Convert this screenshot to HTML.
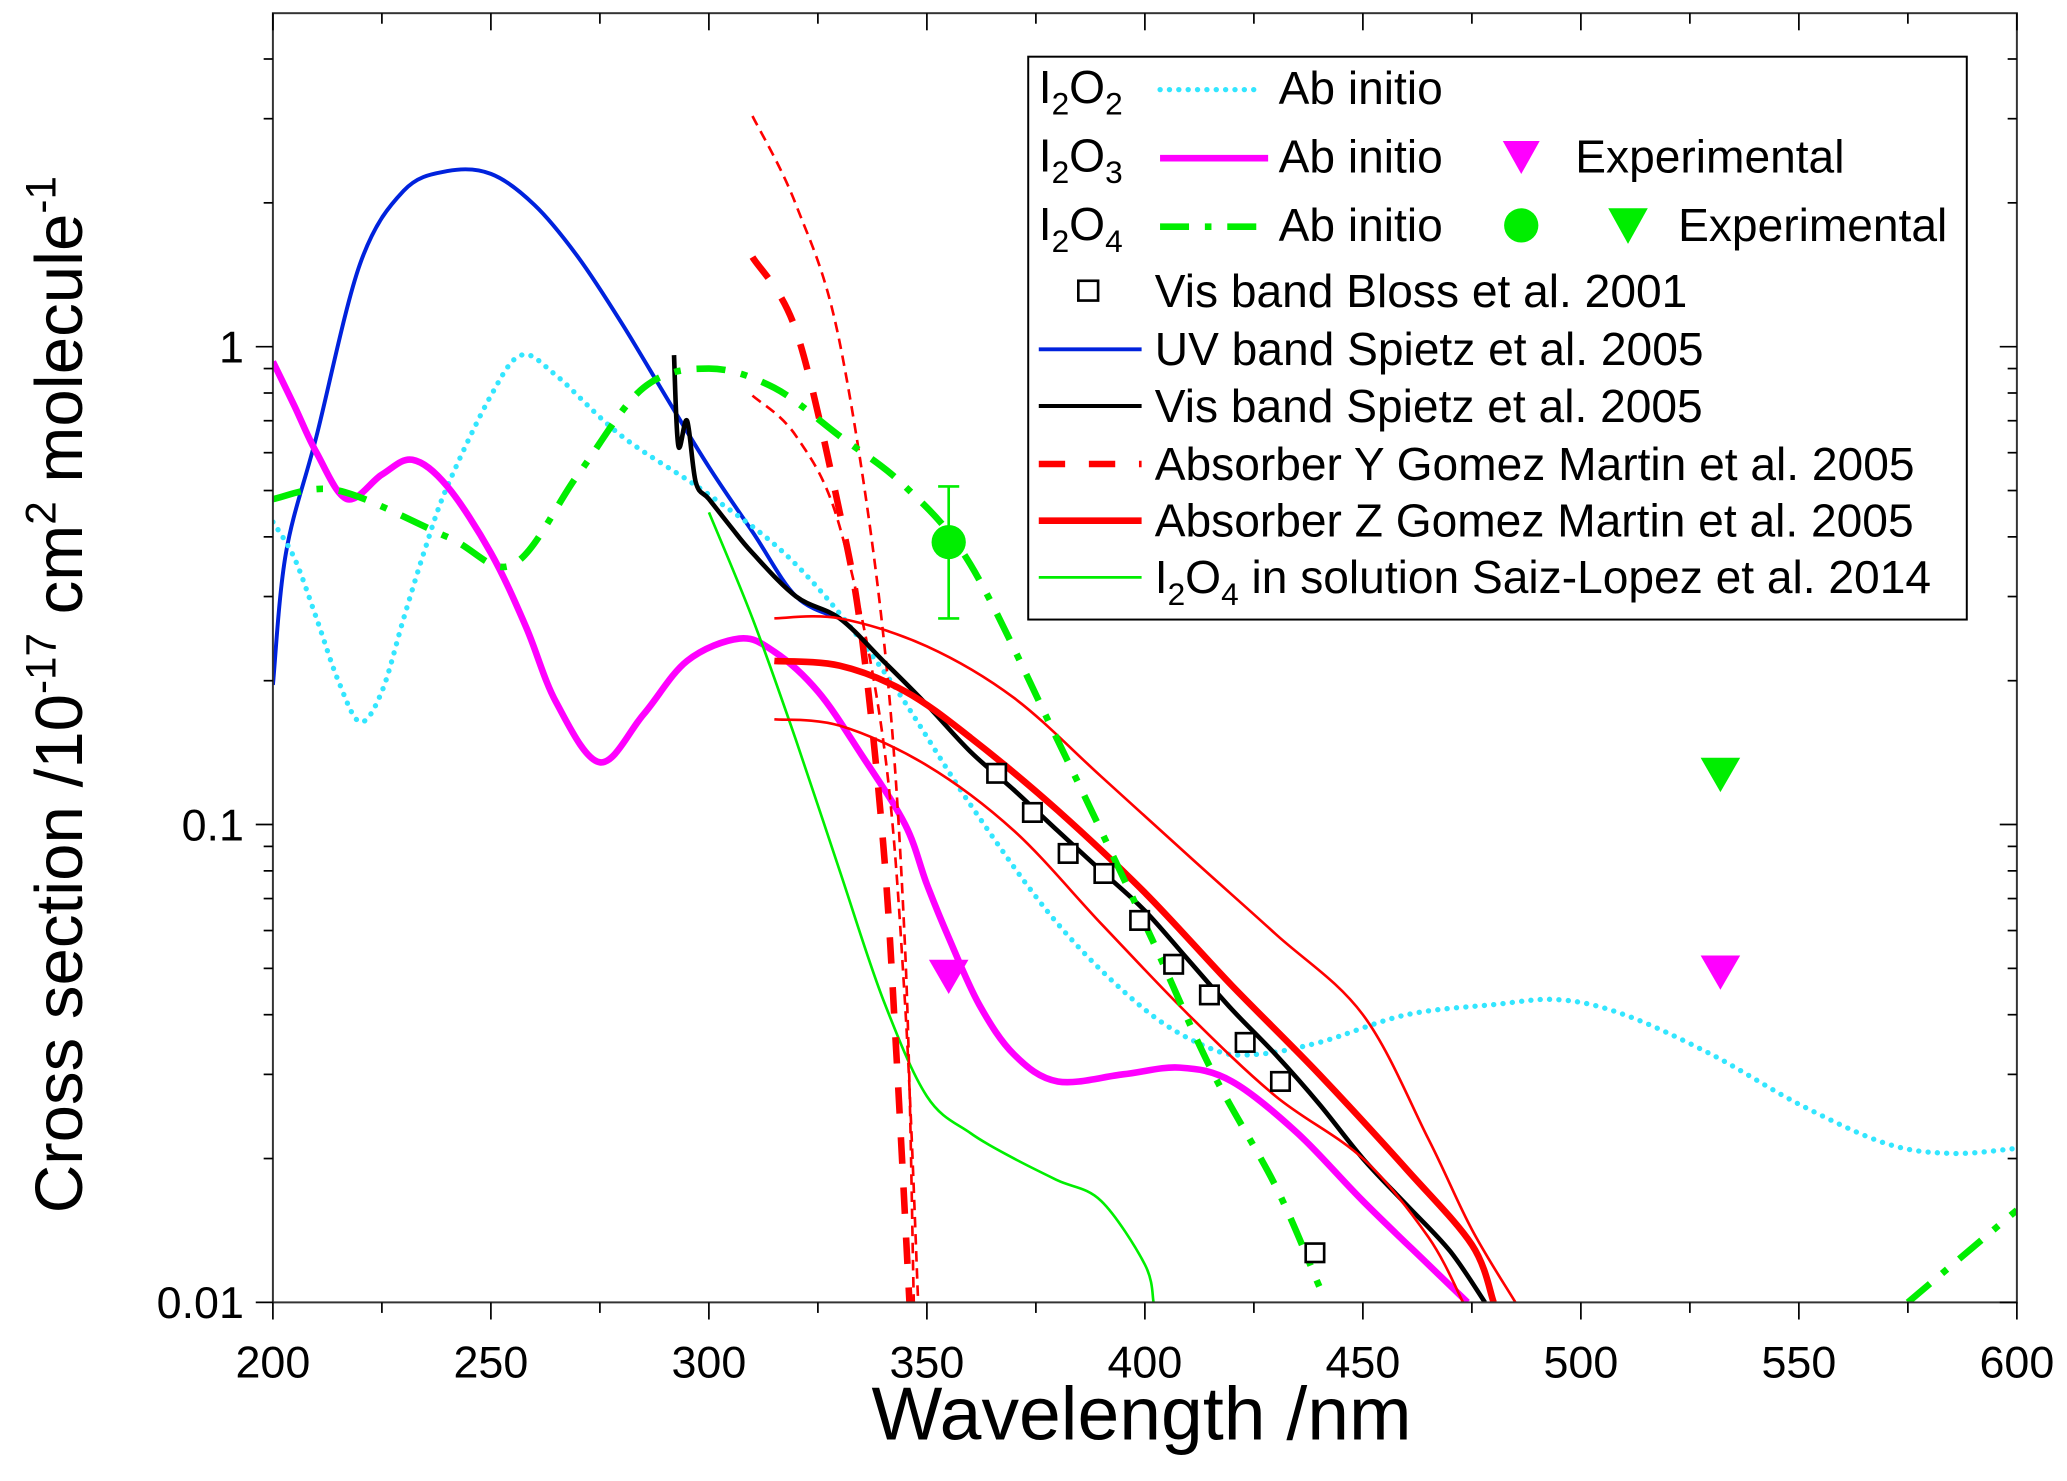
<!DOCTYPE html>
<html><head><meta charset="utf-8"><style>
html,body{margin:0;padding:0;background:#fff}
svg{display:block;font-family:"Liberation Sans",Arial,sans-serif}
</style></head><body>
<svg id="chart" width="2067" height="1481" viewBox="0 0 1568 1123.5" xmlns="http://www.w3.org/2000/svg">
<rect width="1568" height="1123.5" fill="#fff"/>
<g id="plot"></g>
<g id="axes"></g>
<text x="866" y="1092" font-size="57" text-anchor="middle">Wavelength /nm</text>
<text transform="translate(62,527) rotate(-90)" font-size="51" text-anchor="middle">Cross section /10<tspan dy="-20" font-size="32">-17</tspan><tspan dy="20"> cm</tspan><tspan dy="-20" font-size="32">2</tspan><tspan dy="20"> molecule</tspan><tspan dy="-20" font-size="32">-1</tspan></text>
<g font-size="35">
<rect x="780" y="43" width="712" height="427" fill="#fff" stroke="#000" stroke-width="1.5"/>
<text x="788" y="78">I<tspan font-size="24" dy="9">2</tspan><tspan dy="-9">O</tspan><tspan font-size="24" dy="9">2</tspan></text>
<line x1="880" y1="68" x2="955" y2="68" stroke="#33e6ff" stroke-width="4" stroke-dasharray="0.1,7" stroke-linecap="round"/>
<text x="970" y="79">Ab initio</text>
<text x="788" y="130">I<tspan font-size="24" dy="9">2</tspan><tspan dy="-9">O</tspan><tspan font-size="24" dy="9">3</tspan></text>
<line x1="880" y1="120" x2="962" y2="120" stroke="#ff00ff" stroke-width="5"/>
<text x="970" y="131">Ab initio</text>
<path d="M1140,107 L1168,107 L1154,132 Z" fill="#ff00ff"/>
<text x="1195" y="131">Experimental</text>
<text x="788" y="182">I<tspan font-size="24" dy="9">2</tspan><tspan dy="-9">O</tspan><tspan font-size="24" dy="9">4</tspan></text>
<line x1="880" y1="172" x2="962" y2="172" stroke="#00ee00" stroke-width="5" stroke-dasharray="22,12,5,12"/>
<circle cx="1154" cy="171" r="13" fill="#00ee00"/>
<path d="M1220,158 L1250,158 L1235,185 Z" fill="#00ee00"/>
<text x="970" y="183">Ab initio</text>
<text x="1273" y="183">Experimental</text>
<rect x="818" y="213" width="15" height="15" fill="none" stroke="#000" stroke-width="2"/>
<text x="876" y="233">Vis band Bloss et al. 2001</text>
<line x1="788" y1="265" x2="866" y2="265" stroke="#0022dd" stroke-width="3"/>
<text x="876" y="277">UV band Spietz et al. 2005</text>
<line x1="788" y1="308" x2="866" y2="308" stroke="#000" stroke-width="3"/>
<text x="876" y="320">Vis band Spietz et al. 2005</text>
<line x1="788" y1="352" x2="866" y2="352" stroke="#ff0000" stroke-width="5" stroke-dasharray="20,18"/>
<text x="876" y="364">Absorber Y Gomez Martin et al. 2005</text>
<line x1="788" y1="395" x2="866" y2="395" stroke="#ff0000" stroke-width="5"/>
<text x="876" y="407">Absorber Z Gomez Martin et al. 2005</text>
<line x1="788" y1="438" x2="866" y2="438" stroke="#00ee00" stroke-width="2"/>
<text x="876" y="450">I<tspan font-size="24" dy="9">2</tspan><tspan dy="-9">O</tspan><tspan font-size="24" dy="9">4</tspan><tspan dy="-9"> in solution Saiz-Lopez et al. 2014</tspan></text>
</g>
</svg>
<script>
// data arrays: [wavelength nm, cross section 1e-17]
const i2o2Abinitio=[[200,0.43],[205,0.36],[210,0.27],[215,0.2],[220,0.164],[225,0.19],[230,0.27],[235,0.38],[240,0.51],[250,0.79],[257,0.96],[265,0.87],[280,0.65],[300,0.49],[320,0.35],[340,0.21],[360,0.11],[380,0.062],[400,0.041],[415,0.034],[425,0.033],[440,0.035],[460,0.040],[480,0.042],[495,0.043],[510,0.040],[530,0.033],[550,0.026],[570,0.0215],[585,0.0205],[600,0.021]];
const i2o3Abinitio=[[200,0.93],[205,0.75],[210,0.6],[217,0.48],[225,0.54],[232,0.58],[240,0.51],[250,0.37],[258,0.26],[265,0.18],[275,0.135],[285,0.17],[295,0.22],[307,0.245],[315,0.23],[325,0.19],[335,0.14],[345,0.1],[350,0.075],[355,0.058],[362,0.042],[370,0.033],[380,0.029],[395,0.030],[408,0.031],[420,0.029],[435,0.0226],[450,0.0163],[465,0.012],[474,0.010]];
const i2o4Abinitio=[[200,0.48],[215,0.50],[240,0.40],[255,0.35],[270,0.54],[285,0.82],[300,0.90],[315,0.82],[330,0.65],[345,0.51],[360,0.35],[380,0.15],[400,0.062],[415,0.031],[430,0.0175],[440,0.0108]];
const i2o4AbinitioTail=[[575,0.01],[600,0.0156]];
const uvSpietz=[[200,0.196],[203,0.37],[210,0.65],[220,1.49],[230,2.12],[240,2.33],[250,2.3],[260,1.98],[270,1.54],[280,1.12],[290,0.79],[300,0.56],[310,0.41],[320,0.30],[330,0.27]];
const visSpietz=[[292,0.96],[293,0.62],[295,0.70],[297,0.52],[300,0.48],[305,0.42],[310,0.37],[320,0.30],[330,0.27],[340,0.22],[350,0.178],[360,0.142],[370,0.118],[380,0.097],[390,0.080],[400,0.066],[410,0.052],[420,0.041],[430,0.033],[440,0.026],[450,0.020],[460,0.016],[470,0.0128],[478,0.010]];
const absZ=[[315,0.22],[330,0.215],[345,0.19],[360,0.152],[380,0.107],[400,0.072],[420,0.046],[440,0.030],[460,0.019],[475,0.0132],[480,0.010]];
const absZHigh=[[315,0.27],[330,0.27],[350,0.236],[370,0.184],[390,0.126],[410,0.086],[430,0.059],[450,0.040],[465,0.022],[475,0.0142],[485,0.010]];
const absZLow=[[315,0.166],[330,0.161],[350,0.133],[370,0.097],[390,0.062],[410,0.040],[430,0.027],[450,0.020],[465,0.0137],[473,0.010]];
const absY=[[310,1.54],[320,1.08],[330,0.45],[335,0.25],[340,0.091],[343,0.033],[346,0.010]];
const absYHigh=[[310,3.04],[320,1.98],[330,1.02],[340,0.25],[345,0.055],[347,0.010]];
const absYLow=[[310,0.79],[320,0.65],[330,0.42],[340,0.15],[345,0.042],[348,0.010]];
const solution=[[300,0.45],[310,0.27],[320,0.15],[330,0.080],[340,0.043],[350,0.027],[360,0.0226],[370,0.020],[380,0.018],[390,0.0163],[400,0.012],[402,0.010]];
const blossX=[366,374.2,382.4,390.6,398.8,406.6,414.8,423,431.1,439];
const blossY=[0.128,0.106,0.087,0.079,0.063,0.051,0.044,0.035,0.029,0.0127];
const expI2O3=[[355,0.048],[532,0.049]];
const expI2O4Tri=[[532,0.127]];
const expI2O4Circle=[355,0.39,0.27,0.51];
const xTicks=[200,250,300,350,400,450,500,550,600];
const yTicks=[0.01,0.1,1];
const yTickLabels=["0.01","0.1","1"];

const L=207,R=1530,T=10,B=988;
const X=w=>L+(w-200)*(R-L)/400;
const Y=v=>263-Math.log10(v)*362.5;
const NS="http://www.w3.org/2000/svg";
const plot=document.getElementById('plot'),axes=document.getElementById('axes');
function mk(tag,attrs,parent){const e=document.createElementNS(NS,tag);for(const k in attrs)e.setAttribute(k,attrs[k]);parent.appendChild(e);return e;}
const svgRoot=document.getElementById('chart');
const defs=mk('defs',{},svgRoot);
const cp=mk('clipPath',{id:'cp'},defs);
mk('rect',{x:L,y:T,width:R-L,height:B-T},cp);
plot.setAttribute('clip-path','url(#cp)');
function smoothPath(pts){
  let d='M'+pts[0][0].toFixed(1)+','+pts[0][1].toFixed(1);
  for(let i=0;i<pts.length-1;i++){
    const p0=pts[Math.max(0,i-1)],p1=pts[i],p2=pts[i+1],p3=pts[Math.min(pts.length-1,i+2)];
    const c1x=p1[0]+(p2[0]-p0[0])/6,c1y=p1[1]+(p2[1]-p0[1])/6;
    const c2x=p2[0]-(p3[0]-p1[0])/6,c2y=p2[1]-(p3[1]-p1[1])/6;
    d+=` C${c1x.toFixed(1)},${c1y.toFixed(1)} ${c2x.toFixed(1)},${c2y.toFixed(1)} ${p2[0].toFixed(1)},${p2[1].toFixed(1)}`;
  }
  return d;
}
function line(data,name,stroke,w,dash,cap){
  const pts=data.map(p=>[X(p[0]),Y(p[1])]);
  const e=mk('path',{d:smoothPath(pts),fill:'none',stroke:stroke,'stroke-width':w,'stroke-linejoin':'round','stroke-linecap':cap||'butt'},plot);
  if(dash)e.setAttribute('stroke-dasharray',dash);
  
  
}
line(uvSpietz,'uv-band-spietz-line','#0022dd',3);
line(i2o2Abinitio,'i2o2-abinitio-line','#33e6ff',4,'0.1,7','round');
line(i2o3Abinitio,'i2o3-abinitio-line','#ff00ff',5);
line(solution,'i2o4-solution-line','#00ee00',2);
line(absYHigh,'absorber-y-upper-line','#ff0000',2,'8,5');
line(absYLow,'absorber-y-lower-line','#ff0000',2,'8,5');
line(absY,'absorber-y-line','#ff0000',5,'20,18');
line(visSpietz,'vis-band-spietz-line','#000',3.5);
line(absZHigh,'absorber-z-upper-line','#ff0000',2);
line(absZLow,'absorber-z-lower-line','#ff0000',2);
line(absZ,'absorber-z-line','#ff0000',5);
line(i2o4Abinitio,'i2o4-abinitio-line','#00ee00',5,'22,12,5,12');
line(i2o4AbinitioTail,'i2o4-abinitio-tail-line','#00ee00',5,'22,12,5,12');
blossX.forEach((w,i)=>{
  const s=mk('rect',{x:X(w)-7,y:Y(blossY[i])-7,width:14,height:14,fill:'#fff',stroke:'#000','stroke-width':2},plot);
  
  
});
expI2O3.forEach(p=>{
  const x=X(p[0]),y=Y(p[1]);
  const t=mk('path',{d:`M${x-15},${y-13} L${x+15},${y-13} L${x},${y+13} Z`,fill:'#ff00ff'},plot);
  
  
});
expI2O4Tri.forEach(p=>{
  const x=X(p[0]),y=Y(p[1]);
  const t=mk('path',{d:`M${x-15},${y-13} L${x+15},${y-13} L${x},${y+13} Z`,fill:'#00ee00'},plot);
  
  
});
{
  const x=X(expI2O4Circle[0]);
  const eb=mk('path',{d:`M${x},${Y(expI2O4Circle[2])} L${x},${Y(expI2O4Circle[3])} M${x-8},${Y(expI2O4Circle[2])} L${x+8},${Y(expI2O4Circle[2])} M${x-8},${Y(expI2O4Circle[3])} L${x+8},${Y(expI2O4Circle[3])}`,stroke:'#00ee00','stroke-width':2,fill:'none'},plot);
  
  
  const c=mk('circle',{cx:x,cy:Y(expI2O4Circle[1]),r:13,fill:'#00ee00'},plot);
  
  
}
const fr=mk('rect',{x:L,y:T,width:R-L,height:B-T,fill:'none',stroke:'#333','stroke-width':1.5},axes);


xTicks.forEach(w=>{
  const x=X(w);
  mk('line',{x1:x,y1:B,x2:x,y2:B+13,stroke:'#000','stroke-width':1.3},axes);
  mk('line',{x1:x,y1:T,x2:x,y2:T+13,stroke:'#000','stroke-width':1.3},axes);
  const xm=X(w+25);
  if(w<600){mk('line',{x1:xm,y1:B,x2:xm,y2:B+8,stroke:'#000','stroke-width':1.3},axes);mk('line',{x1:xm,y1:T,x2:xm,y2:T+8,stroke:'#000','stroke-width':1.3},axes);}
  const t=mk('text',{x:x,y:B+57,'font-size':34,'text-anchor':'middle'},axes);
  t.textContent=w;
  
  
});
yTicks.forEach((v,i)=>{
  const y=Y(v);
  mk('line',{x1:L-13,y1:y,x2:L,y2:y,stroke:'#000','stroke-width':1.3},axes);
  mk('line',{x1:R-13,y1:y,x2:R,y2:y,stroke:'#000','stroke-width':1.3},axes);
  const t=mk('text',{x:L-22,y:y+12,'font-size':34,'text-anchor':'end'},axes);
  t.textContent=yTickLabels[i];
  
  
  for(let m=2;m<=9;m++){
    const ym=Y(v*m);
    if(ym<T)break;
    mk('line',{x1:L-7,y1:ym,x2:L,y2:ym,stroke:'#000','stroke-width':1.3},axes);
    mk('line',{x1:R-7,y1:ym,x2:R,y2:ym,stroke:'#000','stroke-width':1.3},axes);
  }
});
</script>
</body></html>
